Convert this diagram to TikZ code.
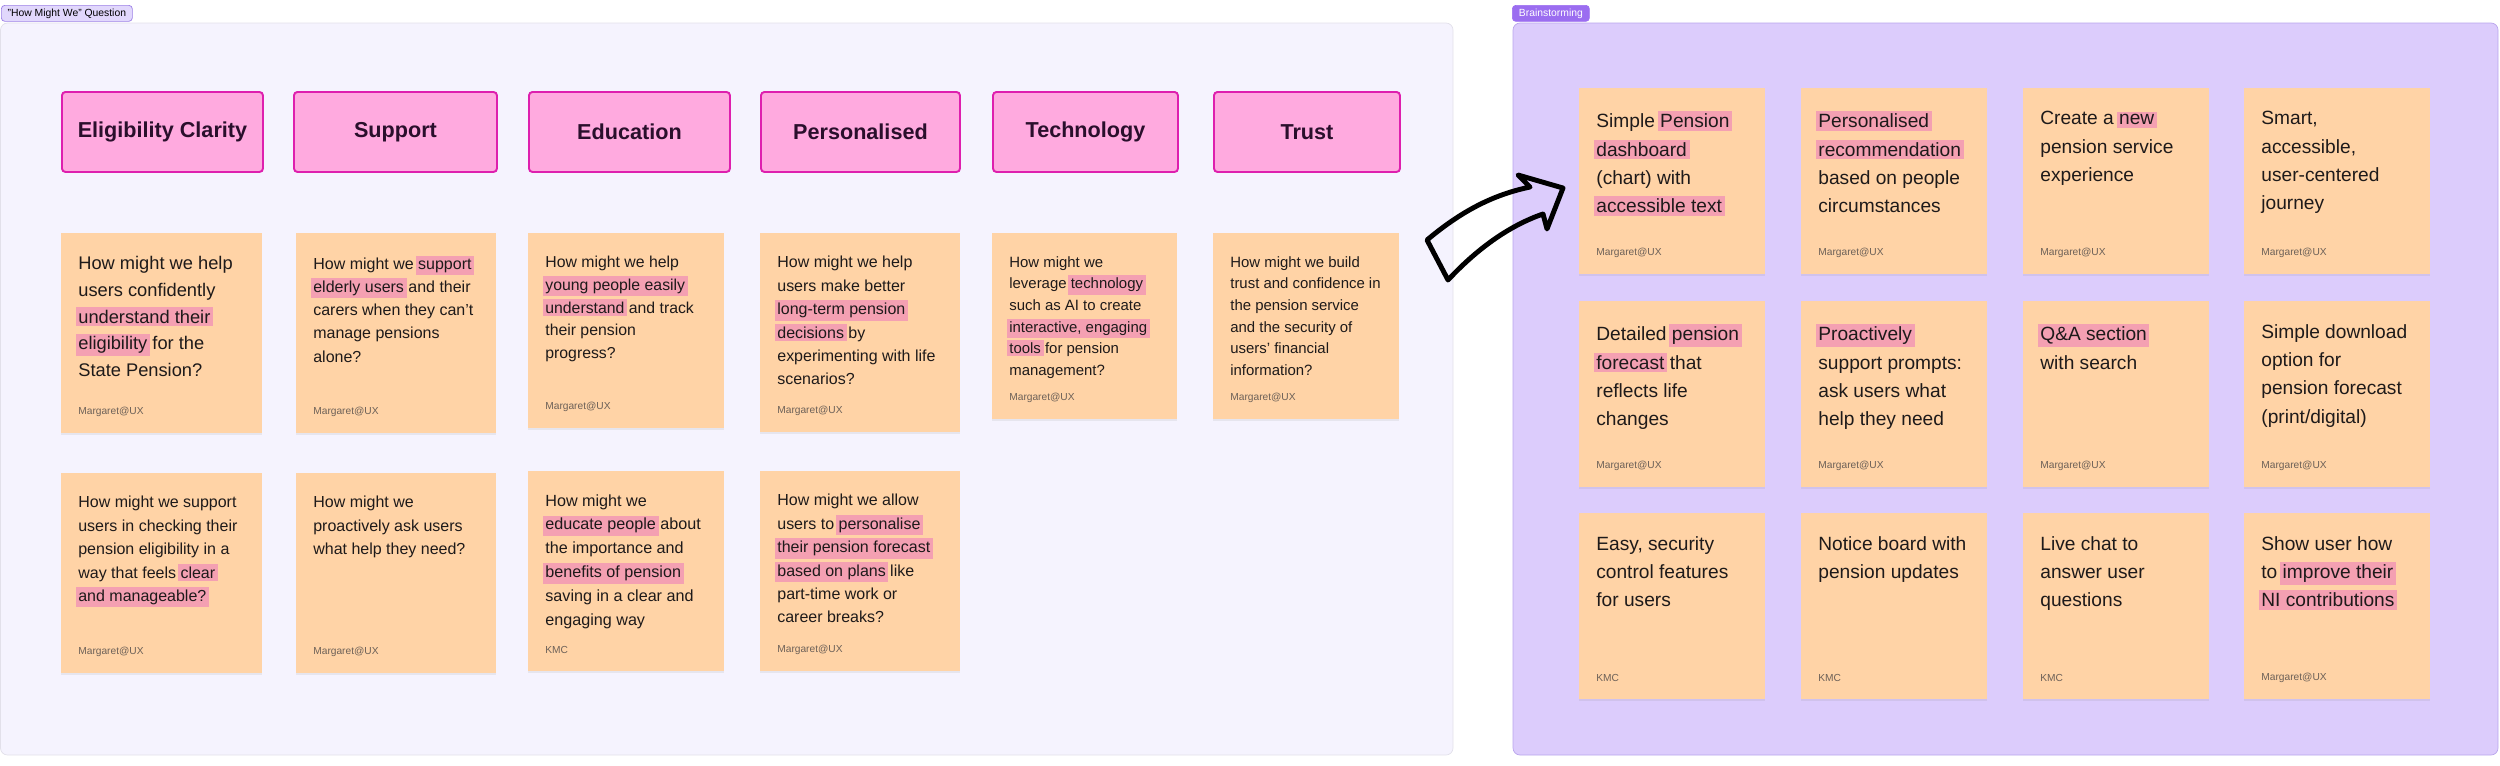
\documentclass[tikz,border=0pt]{standalone}
\usepackage{fontspec}
\setmainfont{Liberation Sans}
\usetikzlibrary{calc,shadows}

\definecolor{kfonas}{HTML}{F5F3FE}
\definecolor{kremas}{HTML}{E2E0EA}
\definecolor{dfonas}{HTML}{DCCCFC}
\definecolor{dremas}{HTML}{B9A5EC}
\definecolor{lapspalva}{HTML}{FFD3A6}
\definecolor{antrspalva}{HTML}{FFAADF}
\definecolor{antrremas}{HTML}{DE1FAE}
\definecolor{antrtekstas}{HTML}{2A0F2C}
\definecolor{hlspalva}{HTML}{F4A0B2}
\definecolor{tekstspalva}{HTML}{1E1A1A}
\definecolor{autspalva}{HTML}{6D6158}
\definecolor{zymspalva}{HTML}{E1D7FC}
\definecolor{zymremas}{HTML}{9C80E6}
\definecolor{zymviol}{HTML}{9B6DF0}

\newcommand{\hl}[1]{{\setlength{\fboxsep}{1.5pt}\rlap{\hspace{-1.5pt}\colorbox{hlspalva}{\phantom{#1}}}#1}}

% lapelis: vardas, x, y, plotis, aukstis, sriftas, tarpas, tekstas, autorius
\newcommand{\lapelis}[9]{%
  \node[lapelis, minimum width=#4*0.02cm, minimum height=#5*0.02cm] (#1) at (#2,#3) {};
  \node[lapteksta, font=\fontsize{#6}{#7}\selectfont] (#1t) at ($(#1.north west)+(17,23)$) {#8};
  \node[autorius] (#1a) at ($(#1.south west)+(17,-22)$) {#9};
}

\begin{document}
\begin{tikzpicture}[x=0.02cm, y=-0.02cm,
    lapelis/.style={rectangle, fill=lapspalva, anchor=north west, inner sep=0,
      drop shadow={shadow xshift=0pt, shadow yshift=-1.2pt, opacity=0.12}},
    lapteksta/.style={anchor=north west, inner sep=0, align=left, text=tekstspalva},
    autorius/.style={anchor=west, inner sep=0, text=autspalva, font=\fontsize{5.8}{7}\selectfont},
    antraste/.style={rectangle, rounded corners=2pt, fill=antrspalva, draw=antrremas,
      line width=1.1pt, anchor=north west, minimum height=80*0.02cm, text=antrtekstas,
      font=\fontsize{12.3}{14}\selectfont\bfseries},
    zyma/.style={rectangle, rounded corners=2pt, anchor=north west, inner sep=0,
      minimum height=16*0.02cm, font=\fontsize{5.9}{7}\selectfont}]
    \useasboundingbox (0,0) rectangle (2500,765);

    % Remai
    \draw[fill=kfonas, draw=kremas, rounded corners=4pt] (0.5,23) rectangle (1453,755);
    \draw[fill=dfonas, draw=dremas, rounded corners=4pt] (1513,23) rectangle (2498,755);
    \node[zyma, fill=zymspalva, draw=zymremas, minimum width=131*0.02cm] (zkair) at (1,5) {"How Might We" Question};
    \node[zyma, fill=zymviol, draw=zymviol, text=white, minimum width=77*0.02cm] (zdes) at (1512,5) {Brainstorming};

    % Antrastes
    \foreach \n/\x/\w/\t in {elig/61/201/Eligibility Clarity, supp/293/203/Support,
        educ/528/201/Education, pers/760/199/Personalised, tech/992/185/Technology,
        trust/1213/186/Trust}
      \node[antraste, minimum width=\w*0.02cm] (\n) at (\x,91) {\t};

    % Klausimai
    \lapelis{e1}{61}{233}{201}{200}{10.4}{15.2}{How might we help\\users confidently\\\hl{understand their}\\\hl{eligibility} for the\\State Pension?}{Margaret@UX}
    \lapelis{s1}{296}{233}{200}{200}{9.1}{13.2}{How might we \hl{support}\\\hl{elderly users} and their\\carers when they can’t\\manage pensions\\alone?}{Margaret@UX}
    \lapelis{d1}{528}{233}{196}{195}{9.0}{12.9}{How might we help\\\hl{young people easily}\\\hl{understand} and track\\their pension\\progress?}{Margaret@UX}
    \lapelis{p1}{760}{233}{200}{199}{9.1}{13.3}{How might we help\\users make better\\\hl{long-term pension}\\\hl{decisions} by\\experimenting with life\\scenarios?}{Margaret@UX}
    \lapelis{t1}{992}{233}{185}{186}{8.5}{12.3}{How might we\\leverage \hl{technology}\\such as AI to create\\\hl{interactive, engaging}\\\hl{tools} for pension\\management?}{Margaret@UX}
    \lapelis{r1}{1213}{233}{186}{186}{8.5}{12.3}{How might we build\\trust and confidence in\\the pension service\\and the security of\\users' financial\\information?}{Margaret@UX}

    \lapelis{e2}{61}{473}{201}{200}{9.1}{13.3}{How might we support\\users in checking their\\pension eligibility in a\\way that feels \hl{clear}\\\hl{and manageable?}}{Margaret@UX}
    \lapelis{s2}{296}{473}{200}{200}{9.1}{13.3}{How might we\\proactively ask users\\what help they need?}{Margaret@UX}
    \lapelis{d2}{528}{471}{196}{200}{9.2}{13.6}{How might we\\\hl{educate people} about\\the importance and\\\hl{benefits of pension}\\saving in a clear and\\engaging way}{KMC}
    \lapelis{p2}{760}{471}{200}{200}{9.1}{13.3}{How might we allow\\users to \hl{personalise}\\\hl{their pension forecast}\\\hl{based on plans} like\\part-time work or\\career breaks?}{Margaret@UX}

    % Ideju lapeliai
    \lapelis{b1}{1579}{88}{186}{186}{10.9}{16.1}{Simple \hl{Pension}\\\hl{dashboard}\\(chart) with\\\hl{accessible text}}{Margaret@UX}
    \lapelis{b2}{1801}{88}{186}{186}{10.9}{16.1}{\hl{Personalised}\\\hl{recommendation}\\based on people\\circumstances}{Margaret@UX}
    \lapelis{b3}{2023}{88}{186}{186}{10.9}{16.1}{Create a \hl{new}\\pension service\\experience}{Margaret@UX}
    \lapelis{b4}{2244}{88}{186}{186}{10.9}{16.1}{Smart,\\accessible,\\user-centered\\journey}{Margaret@UX}
    \lapelis{b5}{1579}{301}{186}{186}{10.9}{16.1}{Detailed \hl{pension}\\\hl{forecast} that\\reflects life\\changes}{Margaret@UX}
    \lapelis{b6}{1801}{301}{186}{186}{10.9}{16.1}{\hl{Proactively}\\support prompts:\\ask users what\\help they need}{Margaret@UX}
    \lapelis{b7}{2023}{301}{186}{186}{10.9}{16.1}{\hl{Q\&A section}\\with search}{Margaret@UX}
    \lapelis{b8}{2244}{301}{186}{186}{10.9}{16.1}{Simple download\\option for\\pension forecast\\(print/digital)}{Margaret@UX}
    \lapelis{b9}{1579}{513}{186}{186}{10.9}{16.1}{Easy, security\\control features\\for users}{KMC}
    \lapelis{b10}{1801}{513}{186}{186}{10.9}{16.1}{Notice board with\\pension updates}{KMC}
    \lapelis{b11}{2023}{513}{186}{186}{10.9}{16.1}{Live chat to\\answer user\\questions}{KMC}
    \lapelis{b12}{2244}{513}{186}{186}{10.9}{16.1}{Show user how\\to \hl{improve their}\\\hl{NI contributions}}{Margaret@UX}

    % Rodykle
    \coordinate (R1) at (1427,240);
    \coordinate (R2) at (1530,187);
    \coordinate (R3) at (1518,175);
    \coordinate (R4) at (1563,188);
    \coordinate (R5) at (1547,229);
    \coordinate (R6) at (1543,214);
    \coordinate (R7) at (1448,280);
    \draw[line width=2.8pt, line join=round] (R1) .. controls (1465,208) and (1497,194) .. (R2)
        -- (R3) -- (R4) -- (R5) -- (R6) .. controls (1508,226) and (1476,250) .. (R7) -- cycle;
\end{tikzpicture}
\end{document}
